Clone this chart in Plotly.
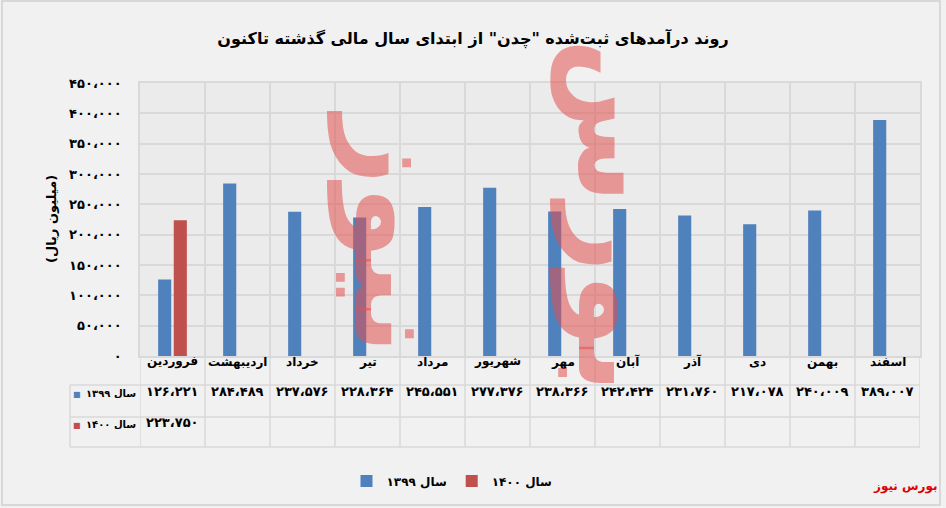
import plotly.graph_objects as go

months = ["فروردین", "اردیبهشت", "خرداد", "تیر", "مرداد", "شهریور",
          "مهر", "آبان", "آذر", "دی", "بهمن", "اسفند"]
values_1399 = [126221, 284489, 237576, 228364, 245551, 277376,
               238366, 242424, 231760, 217078, 240009, 389007]
values_1400 = [223750, None, None, None, None, None,
               None, None, None, None, None, None]
series_names = ["سال ۱۳۹۹", "سال ۱۴۰۰"]
y_ticks = [0, 50000, 100000, 150000, 200000, 250000, 300000, 350000, 400000, 450000]

title_text = 'روند درآمدهای ثبت‌شده "چدن" از ابتدای سال مالی گذشته تاکنون'
y_title = "(میلیون ریال)"
source_text = "بورس نیوز"
watermark_words = ["بورس", "نیوز"]

BLUE = "#4f81bd"
RED = "#c0504d"
GRID = "#d9d9d9"
FONT = "DejaVu Sans"

P_DIG = "۰۱۲۳۴۵۶۷۸۹"


def fa_num(v):
    s = f"{v:,}".replace(",", "،")
    return "".join(P_DIG[int(c)] if c.isdigit() else c for c in s)


def b(s):
    return "<b>" + s + "</b>"


# layout helpers (pixel -> paper) for plot area 140..920 x 83..356
L, R, T, B = 140, 920, 83, 356
W_PLOT, H_PLOT = R - L, B - T


def px(p):
    return (p - L) / W_PLOT


def py(p):
    return (B - p) / H_PLOT


fig = go.Figure()
fig.add_trace(go.Bar(x=months, y=values_1399, name=b(series_names[0]),
                     marker=dict(color=BLUE, line=dict(width=0))))
fig.add_trace(go.Bar(x=months, y=values_1400, name=b(series_names[1]),
                     marker=dict(color=RED, line=dict(width=0))))

shapes = []
annotations = []

# table geometry
row_edges = [B, 385, 417, 447]
left_col = 70

for k in range(len(months) + 1):
    shapes.append(dict(type="line", xref="x", yref="paper",
                       x0=k - 0.5, x1=k - 0.5, y0=py(row_edges[-1]), y1=0,
                       line=dict(color=GRID, width=1.5), layer="below"))
shapes.append(dict(type="line", xref="paper", yref="paper",
                   x0=px(left_col), x1=px(left_col), y0=py(row_edges[-1]), y1=py(row_edges[1]),
                   line=dict(color=GRID, width=1.5)))
for e in row_edges[1:]:
    shapes.append(dict(type="line", xref="paper", yref="paper",
                       x0=px(left_col), x1=1, y0=py(e), y1=py(e),
                       line=dict(color=GRID, width=1.5)))

# figure frame
shapes.append(dict(type="rect", xref="paper", yref="paper",
                   x0=px(2), x1=px(940), y0=py(1), y1=py(505),
                   line=dict(color="#cfcfcf", width=1.5), layer="below"))

hdr_y = py((row_edges[0] + row_edges[1]) / 2)
r1_y = py((row_edges[1] + row_edges[2]) / 2)
r2_y = py((row_edges[2] + row_edges[3]) / 2)

for i, m in enumerate(months):
    annotations.append(dict(x=i, y=hdr_y, xref="x", yref="paper", text=b(m),
                            showarrow=False, font=dict(family=FONT, size=12, color="black")))
    annotations.append(dict(x=i, y=r1_y, xref="x", yref="paper", text=b(fa_num(values_1399[i])),
                            showarrow=False, font=dict(family=FONT, size=13, color="black")))
    if values_1400[i] is not None:
        annotations.append(dict(x=i, y=r2_y, xref="x", yref="paper", text=b(fa_num(values_1400[i])),
                                showarrow=False, font=dict(family=FONT, size=13, color="black")))

for name, color, yy in [(series_names[0], BLUE, r1_y), (series_names[1], RED, r2_y)]:
    annotations.append(dict(x=px(138), y=yy, xref="paper", yref="paper", text=b(name),
                            xanchor="right", showarrow=False,
                            font=dict(family=FONT, size=10, color="black")))
    annotations.append(dict(x=px(71), y=yy, xref="paper", yref="paper", text="■",
                            xanchor="left", showarrow=False,
                            font=dict(family=FONT, size=8, color=color)))

# y axis title
annotations.append(dict(x=px(42), y=0.5, xref="paper", yref="paper", text=b(y_title),
                        textangle=-90, showarrow=False,
                        font=dict(family=FONT, size=13, color="black")))

# watermark (two rotated words)
for word, cx, cy in [(watermark_words[0], 620, 215), (watermark_words[1], 397, 232)]:
    annotations.append(dict(x=px(cx), y=py(cy), xref="paper", yref="paper",
                            xanchor="center", yanchor="middle",
                            text=b(word), textangle=90, showarrow=False,
                            font=dict(family=FONT, size=120, color="rgba(228,80,80,0.55)")))

# source label
annotations.append(dict(x=px(940), y=py(496), xref="paper", yref="paper",
                        text=b(source_text), xanchor="right", showarrow=False,
                        font=dict(family=FONT, size=12, color="#e00000")))

fig.update_layout(
    width=946, height=508,
    margin=dict(l=L, r=946 - R, t=T, b=508 - B),
    paper_bgcolor="#f1f1f1",
    plot_bgcolor="#ebebeb",
    barmode="group", bargap=0.52, bargroupgap=0.16,
    title=dict(text=b(title_text), x=473 / 946, y=1 - 38 / 508,
               xanchor="center", yanchor="middle",
               font=dict(family=FONT, size=16, color="black")),
    showlegend=True,
    legend=dict(orientation="h", x=px(452), y=py(481), xanchor="center", yanchor="middle",
                bgcolor="rgba(0,0,0,0)", font=dict(family=FONT, size=12, color="black"),
                itemwidth=30, traceorder="normal"),
    shapes=shapes,
    annotations=annotations,
    xaxis=dict(type="category", range=[-0.5, 11.5], showticklabels=False, ticks="",
               tickson="boundaries", showgrid=True, gridcolor=GRID, gridwidth=1.5,
               showline=True, linecolor=GRID, linewidth=1.5, mirror=True, zeroline=False),
    yaxis=dict(range=[0, 450000], tickvals=y_ticks, ticktext=[b(fa_num(v)) for v in y_ticks],
               ticks="", showgrid=True, gridcolor=GRID, gridwidth=1.5,
               showline=True, linecolor=GRID, linewidth=1.5, mirror=True, zeroline=False,
               tickfont=dict(family=FONT, size=13, color="black"), ticklabelstandoff=14),
)

fig.write_html("out.html", config={"displayModeBar": False},
               post_script="document.body.style.margin='0';document.body.style.overflow='hidden';")
